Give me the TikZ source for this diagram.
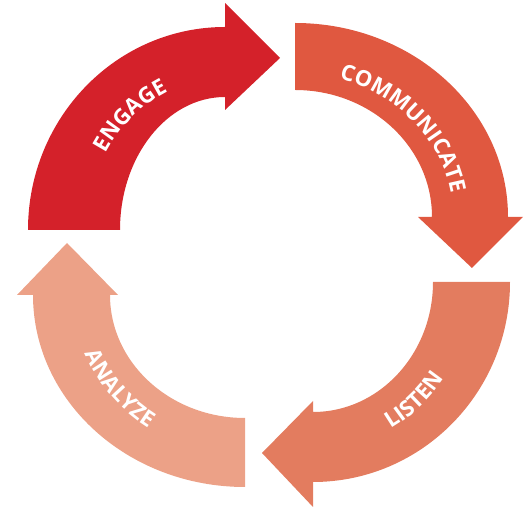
\documentclass[tikz,border=0pt]{standalone}
\usepackage{fontspec}
\setmainfont{Open Sans}
\usepackage{tikz}
\usepackage{xcolor}
\usetikzlibrary{decorations.text}

\definecolor{engagered}{HTML}{D4212A}
\definecolor{commred}{HTML}{E05840}
\definecolor{listenred}{HTML}{E37C5F}
\definecolor{analyzered}{HTML}{ECA187}

\tikzset{
  cyclearrow/.style={fill=#1, draw=none},
  arclabel/.style={decorate, decoration={text along path, text align=center,
    text color=white, text={|\bfseries\fontsize{22}{22}\selectfont|#1}}}
}

\begin{document}
\begin{tikzpicture}[x=1pt, y=1pt]
  \useasboundingbox (0,0) rectangle (525,508);
  % Arrows
  \fill[cyclearrow=engagered] (28,278) arc[start angle=180, end angle=90, x radius=197, y radius=203]
    -- (225,505) -- (280,450) -- (225,398) -- (225,411)
    arc[start angle=90, end angle=180, x radius=105, y radius=133] -- cycle;
  \fill[cyclearrow=commred] (295,485) arc[start angle=90, end angle=0, x radius=213, y radius=194]
    -- (523,291) -- (472,240) -- (418,291) -- (432,291)
    arc[start angle=0, end angle=90, x radius=137, y radius=127] -- cycle;
  \fill[cyclearrow=listenred] (510,226) arc[start angle=0, end angle=-90, x radius=197, y radius=200]
    -- (313,1) -- (262,55) -- (313,107) -- (313,96)
    arc[start angle=-90, end angle=0, x radius=120, y radius=130] -- cycle;
  \fill[cyclearrow=analyzered] (245,21) arc[start angle=270, end angle=180, x radius=212, y radius=192]
    -- (17,213) -- (67,265) -- (118,213) -- (110,213)
    arc[start angle=180, end angle=270, x radius=135, y radius=123] -- cycle;
  % Labels
  \path[arclabel=ENGAGE] (225,278) ++(176:138 and 152)
    arc[start angle=176, end angle=86, x radius=138, y radius=152];
  \path[arclabel=COMMUNICATE] (295,291) ++(86:158 and 144)
    arc[start angle=86, end angle=-4, x radius=158, y radius=144];
  \path[arclabel=LISTEN] (313,226) ++(-93.5:160 and 168)
    arc[start angle=-93.5, end angle=-3.5, x radius=160, y radius=168];
  \path[arclabel=ANALYZE] (245,213) ++(173:172 and 160)
    arc[start angle=173, end angle=263, x radius=172, y radius=160];
\end{tikzpicture}
\end{document}
